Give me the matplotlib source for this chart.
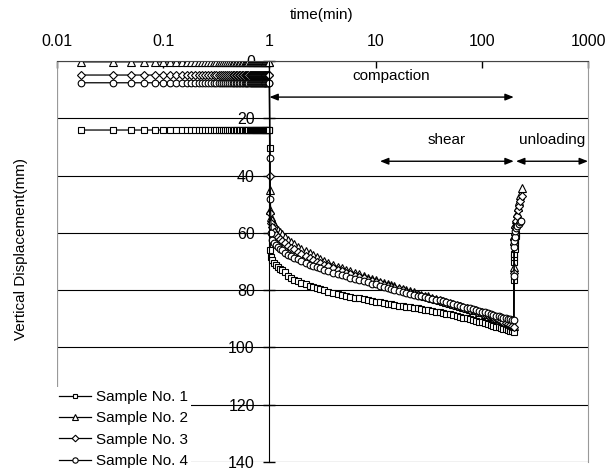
import matplotlib
matplotlib.use('Agg')
import matplotlib.pyplot as plt
from matplotlib.ticker import NullLocator

plt.rcParams['font.family'] = ['Liberation Sans', 'DejaVu Sans']

# time before loading, in seconds (one reading per second)
t_pre_sec = [1, 2, 3, 4, 5, 6, 7, 8, 9, 10, 11, 12, 13, 14, 15, 16, 17, 18, 19, 20,
             21, 22, 23, 24, 25, 26, 27, 28, 29, 30, 31, 32, 33, 34, 35, 36, 37, 38, 39, 40,
             41, 42, 43, 44, 45, 46, 47, 48, 49, 50, 51, 52, 53, 54, 55, 56, 57, 58, 59, 60]

# level before loading (mm), read for each sample
pre_level = [24.1, 0.3, 4.9, 7.6]

# time during compaction / shear (min)
t_load = [1.01, 1.02, 1.04, 1.06, 1.1, 1.15, 1.2, 1.25, 1.3, 1.4,
          1.5, 1.6, 1.7, 1.85, 2.0, 2.2, 2.4, 2.6, 2.8, 3.0,
          3.3, 3.6, 4.0, 4.4, 4.8, 5.3, 5.8, 6.4, 7.0, 7.7,
          8.5, 9.3, 10, 11, 12, 13, 14, 15, 16.5, 18,
          19.5, 21, 23, 25, 27, 29, 31, 34, 37, 40,
          43, 46, 50, 54, 58, 62, 67, 72, 77, 82,
          88, 94, 100, 107, 114, 121, 128, 136, 144, 152,
          160, 168, 176, 184, 192, 200]

load_s1 = [30.5, 66, 68.5, 69.5, 70.5, 71.3, 72, 72.5, 73, 73.8,
           75, 75.7, 76.3, 76.9, 77.5, 78, 78.5, 78.9, 79.3, 79.6,
           80.1, 80.5, 80.9, 81.3, 81.6, 82, 82.3, 82.6, 82.9, 83.2,
           83.5, 83.8, 84, 84.2, 84.5, 84.7, 84.9, 85.1, 85.4, 85.6,
           85.8, 86, 86.2, 86.4, 86.6, 86.8, 86.9, 87.2, 87.5, 87.7,
           88, 88.2, 88.5, 88.8, 89.1, 89.3, 89.6, 89.9, 90.2, 90.4,
           90.7, 91, 91.2, 91.5, 91.8, 92.1, 92.4, 92.7, 93, 93.2,
           93.5, 93.7, 93.9, 94.1, 94.3, 94.5]
load_s2 = [45, 52, 54.4, 55.5, 57, 58.2, 59, 59.8, 60.5, 61.6,
           62.5, 63.3, 64, 64.8, 65.6, 66.4, 67.2, 67.9, 68.5, 69,
           69.8, 70.4, 71.2, 71.8, 72.3, 72.9, 73.4, 74, 74.5, 75,
           75.6, 76.1, 76.5, 77, 77.5, 77.9, 78.3, 78.7, 79.2, 79.6,
           80, 80.4, 80.8, 81.2, 81.6, 81.9, 82.2, 82.6, 83, 83.4,
           83.7, 84, 84.4, 84.8, 85.1, 85.4, 85.8, 86.1, 86.5, 86.8,
           87.1, 87.5, 87.8, 88.2, 88.5, 88.9, 89.2, 89.6, 89.9, 90.3,
           90.6, 91, 91.3, 91.7, 92.1, 92.6]
load_s3 = [40, 53, 56.7, 58, 59.6, 60.6, 61.4, 62.1, 62.7, 63.7,
           64.5, 65.2, 65.8, 66.6, 67.3, 68.1, 68.8, 69.4, 70, 70.4,
           71.1, 71.7, 72.4, 72.9, 73.4, 73.9, 74.4, 74.9, 75.3, 75.8,
           76.3, 76.7, 77.1, 77.6, 78.1, 78.5, 78.9, 79.2, 79.7, 80.1,
           80.5, 80.9, 81.3, 81.7, 82, 82.3, 82.6, 83, 83.4, 83.8,
           84.1, 84.4, 84.8, 85.1, 85.4, 85.7, 86.1, 86.4, 86.8, 87.1,
           87.4, 87.8, 88.1, 88.5, 88.8, 89.2, 89.5, 89.9, 90.3, 90.6,
           91, 91.4, 91.8, 92.2, 92.6, 92.9]
load_s4 = [34, 48.3, 60, 62.5, 63.6, 64.4, 65.1, 65.6, 66.1, 66.9,
           67.6, 68.2, 68.7, 69.3, 69.9, 70.5, 71.1, 71.6, 72, 72.3,
           72.9, 73.4, 74, 74.4, 74.8, 75.2, 75.6, 76, 76.4, 76.8,
           77.3, 77.7, 78, 78.4, 78.9, 79.2, 79.5, 79.8, 80.2, 80.6,
           80.9, 81.2, 81.6, 81.9, 82.2, 82.4, 82.6, 83, 83.3, 83.6,
           83.9, 84.2, 84.5, 84.8, 85.1, 85.4, 85.8, 86.1, 86.4, 86.7,
           87, 87.3, 87.5, 87.8, 88.1, 88.4, 88.6, 88.9, 89.1, 89.4,
           89.6, 89.8, 90, 90.1, 90.3, 90.4]

# unloading (min, mm)
t_unl_s1 = [201, 202, 202.5, 203, 204, 205, 206, 207, 208, 209]
unl_s1 = [76.5, 70, 68.5, 67.5, 65.5, 64, 62.8, 61.8, 61, 60.3]
t_unl_s2 = [201, 202, 203, 204, 206, 209, 213, 218, 224, 231, 240]
unl_s2 = [72, 63, 61, 59.5, 57, 55, 53, 51, 49, 46.8, 44.5]
t_unl_s3 = [201, 202, 203, 204, 206, 209, 213, 218, 224, 231, 240]
unl_s3 = [74, 64, 62, 60.5, 58, 56, 54, 52, 50.5, 48.8, 47]
t_unl_s4 = [201, 202, 203, 204, 207, 211, 216, 222, 229, 235]
unl_s4 = [75, 65, 63, 61.5, 59.5, 58.3, 57.5, 56.9, 56.3, 55.8]

labels = ['Sample No. 1', 'Sample No. 2', 'Sample No. 3', 'Sample No. 4']
markers = ['s', '^', 'D', 'o']
msizes = [4.4, 5.4, 4.2, 4.8]

x_ticks = [0.01, 0.1, 1, 10, 100, 1000]
x_tick_labels = ['0.01', '0.1', '1', '10', '100', '1000']
y_ticks = [0, 20, 40, 60, 80, 100, 120, 140]
y_tick_labels = ['0', '20', '40', '60', '80', '100', '120', '140']

# phase arrows: label, start, end (min), arrow level, text level (mm)
phases = [('compaction', 1, 200, 12.6, 5.2),
          ('shear', 11, 200, 35.0, 27.7),
          ('unloading', 210, 1000, 35.0, 27.7)]

t_pre = [s / 60 for s in t_pre_sec]
loads = [load_s1, load_s2, load_s3, load_s4]
t_unl = [t_unl_s1, t_unl_s2, t_unl_s3, t_unl_s4]
unl = [unl_s1, unl_s2, unl_s3, unl_s4]

fig = plt.figure(figsize=(6.16, 4.71), dpi=100)
ax = fig.add_axes([57/616, 1 - 462/471, 531/616, 401/471])

for i in range(4):
    t = t_pre + t_load + t_unl[i]
    v = [pre_level[i]] * len(t_pre) + loads[i] + unl[i]
    ax.plot(t, v, color='black', lw=0.9, marker=markers[i], ms=msizes[i],
            mfc='white', mec='black', mew=0.8, label=labels[i])

ax.set_xscale('log')
ax.set_xlim(x_ticks[0], x_ticks[-1])
ax.set_ylim(y_ticks[-1], y_ticks[0])

ax.xaxis.tick_top()
ax.set_xticks(x_ticks)
ax.set_xticklabels(x_tick_labels)
ax.xaxis.set_minor_locator(NullLocator())
ax.tick_params(axis='x', direction='in', length=5, width=1, pad=9, labelsize=11.5)

ax.set_yticks(y_ticks)
ax.set_yticklabels(y_tick_labels)
ax.tick_params(axis='y', direction='inout', length=8, width=1, pad=6.5, labelsize=11.5)

ax.spines['left'].set_position(('data', 1))
ax.spines['left'].set_color('black')
ax.spines['bottom'].set_visible(False)
ax.spines['top'].set_color('#444444')
ax.spines['right'].set_color('#999999')
ax.axvline(x_ticks[0], color='#999999', lw=1.6, zorder=1)

ax.yaxis.grid(True, color='black', lw=0.8)
ax.set_axisbelow(True)

for name, t0, t1, y_arrow, y_text in phases:
    ax.annotate('', xy=(t1, y_arrow), xytext=(t0, y_arrow),
                arrowprops=dict(arrowstyle='<|-|>,head_length=0.5,head_width=0.2',
                                color='black', lw=1, shrinkA=0, shrinkB=0))
    ax.text((t0 * t1) ** 0.5, y_text, name, ha='center', va='center', fontsize=11)

fig.text(322/616, 1 - 15/471, 'time(min)', ha='center', va='center', fontsize=11)
fig.text(21/616, 1 - 249/471, 'Vertical Displacement(mm)', rotation=90,
         ha='center', va='center', fontsize=11)

leg = ax.legend(loc='lower left', bbox_to_anchor=(56/616, 0.0), bbox_transform=fig.transFigure,
                borderaxespad=0, borderpad=0.2, handlelength=2.1, handletextpad=0.3,
                labelspacing=0.48, fontsize=11, markerscale=0.8, fancybox=False,
                framealpha=1, facecolor='white', edgecolor='none')

plt.savefig('out.png', dpi=100)
